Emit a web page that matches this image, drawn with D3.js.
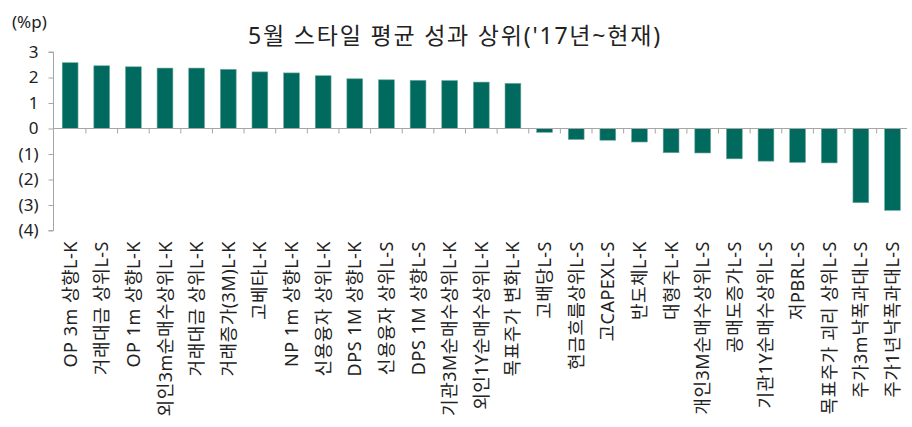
<!DOCTYPE html>
<html>
  <head>
    <meta charset="utf-8">
    <script src="https://d3js.org/d3.v7.min.js"></script>
    <style>
      body { margin: 0; background: #fff; }
      text { font-family: "Noto Sans", "Noto Sans CJK KR", sans-serif; fill: #222; }
    </style>
  </head>
  <body>
    <script>
      // style names, in the order shown
      var categories = [
        "OP 3m 상향L-K", "거래대금 상위L-S", "OP 1m 상향L-K", "외인3m순매수상위L-K",
        "거래대금 상위L-K", "거래증가(3M)L-K", "고베타L-K", "NP 1m 상향L-K",
        "신용융자 상위L-K", "DPS 1M 상향L-K", "신용융자 상위L-S", "DPS 1M 상향L-S",
        "기관3M순매수상위L-K", "외인1Y순매수상위L-K", "목표주가 변화L-K", "고배당L-S",
        "현금흐름상위L-S", "고CAPEXL-S", "반도체L-K", "대형주L-K",
        "개인3M순매수상위L-S", "공매도증가L-S", "기관1Y순매수상위L-S", "저PBRL-S",
        "목표주가 괴리 상위L-S", "주가3m낙폭과대L-S", "주가1년낙폭과대L-S"
      ];
      // average May performance, %p
      var values = [
        2.58, 2.46, 2.42, 2.37, 2.37, 2.32, 2.22, 2.18, 2.07, 1.95, 1.91, 1.89, 1.88, 1.82,
        1.77, -0.15, -0.43, -0.46, -0.53, -0.95, -0.96, -1.19, -1.28, -1.33, -1.35, -2.91, -3.21
      ];
      var yTicks = [3, 2, 1, 0, -1, -2, -3, -4];

      var width = 912, height = 427;
      var svg = d3.select("body").append("svg")
        .attr("width", width)
        .attr("height", height);

      var x = d3.scaleBand()
        .domain(categories)
        .range([54.3, 908.3])
        .paddingInner(0.5)
        .paddingOuter(0.25);

      var y = d3.scaleLinear()
        .domain([-4, 3])
        .range([230.5, 52]);

      var fmt = function (d) { return d < 0 ? "(" + (-d) + ")" : String(d); };

      // y axis
      var yAxis = svg.append("g")
        .attr("transform", "translate(53.5,0)")
        .call(d3.axisLeft(y).tickValues(yTicks).tickFormat(fmt).tickSize(5).tickPadding(10));
      yAxis.select(".domain").attr("stroke", "#a6a6a6").attr("d", "M-5," + y(3) + "H0V" + y(-4) + "H-5");
      yAxis.selectAll(".tick line").attr("stroke", "#a6a6a6");
      yAxis.selectAll(".tick text")
        .style("font-size", "17px")
        .attr("fill", "#222");

      // bars
      svg.append("g").selectAll("rect")
        .data(values)
        .join("rect")
          .attr("x", function (d, i) { return x(categories[i]); })
          .attr("width", x.bandwidth())
          .attr("y", function (d) { return y(Math.max(0, d)); })
          .attr("height", function (d) { return Math.abs(y(d) - y(0)); })
          .attr("fill", "#006a5f")
          .attr("stroke", "#6fa9a1")
          .attr("stroke-width", 0.6);

      // zero line with ticks between categories
      var zero = svg.append("g");
      zero.append("line")
        .attr("x1", 53.5).attr("x2", 907)
        .attr("y1", y(0)).attr("y2", y(0))
        .attr("stroke", "#a6a6a6");
      zero.selectAll("line.tk")
        .data(categories.slice(1))
        .join("line")
          .attr("class", "tk")
          .attr("x1", function (d) { return x(d) - x.step() * 0.25; })
          .attr("x2", function (d) { return x(d) - x.step() * 0.25; })
          .attr("y1", y(0))
          .attr("y2", y(0) + 5)
          .attr("stroke", "#a6a6a6");

      // category labels, rotated
      svg.append("g").selectAll("text")
        .data(categories)
        .join("text")
          .attr("transform", function (d) {
            return "translate(" + (x(d) + x.bandwidth() / 2 + 6.5) + ",241) rotate(-90)";
          })
          .attr("text-anchor", "end")
          .style("font-size", "18px")
          .style("letter-spacing", "0.5px")
          .text(function (d) { return d; });

      // title and unit
      svg.append("text")
        .attr("x", 455)
        .attr("y", 44)
        .attr("text-anchor", "middle")
        .style("font-size", "23px")
        .style("letter-spacing", "1.8px")
        .text("5월 스타일 평균 성과 상위('17년~현재)");

      svg.append("text")
        .attr("x", 12)
        .attr("y", 28)
        .style("font-size", "17px")
        .text("(%p)");
    </script>
  </body>
</html>
